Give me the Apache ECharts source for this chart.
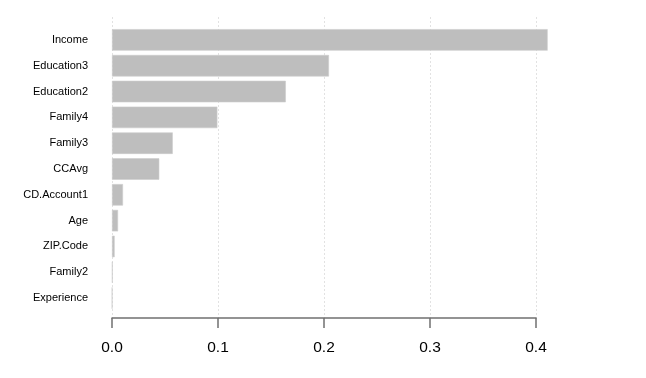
<!DOCTYPE html>
<html>
<head>
<meta charset="utf-8">
<script src="https://cdn.jsdelivr.net/npm/echarts@6/dist/echarts.min.js"></script>
<style>html,body{margin:0;padding:0;background:#fff}#c{width:646px;height:378px}</style>
</head>
<body>
<div id="c"></div>
<script>
const categories = ["Income","Education3","Education2","Family4","Family3","CCAvg","CD.Account1","Age","ZIP.Code","Family2","Experience"];
const values = [0.411,0.2047,0.164,0.0994,0.0573,0.0446,0.0104,0.0057,0.0025,0.0006,0.0002];
const tickValues = [0,0.1,0.2,0.3,0.4];

const chart = echarts.init(document.getElementById('c'), null, {renderer:'canvas'});
chart.setOption({
  animation:false,
  backgroundColor:'#ffffff',
  grid:[
    {left:112,right:110,top:27,bottom:67},
    {left:112,right:110,top:17,bottom:60}
  ],
  xAxis:[
    {gridIndex:0,type:'value',min:tickValues[0],max:tickValues[tickValues.length-1],show:false},
    {gridIndex:1,type:'value',min:tickValues[0],max:tickValues[tickValues.length-1],interval:0.1,
     axisLine:{show:true,lineStyle:{color:'#707070',width:1.5}},
     axisTick:{show:true,length:10,lineStyle:{color:'#707070',width:1.5}},
     axisLabel:{margin:22,color:'#000',fontSize:15.5,fontFamily:'Liberation Sans, Arial, sans-serif',
       formatter:v=>v.toFixed(1)},
     splitLine:{show:true,lineStyle:{color:'#e2e2e2',type:[2,2],width:1}}
    }
  ],
  yAxis:[
    {gridIndex:0,type:'category',data:categories,inverse:true,
     axisLine:{show:false},axisTick:{show:false},splitLine:{show:false},
     axisLabel:{margin:24,color:'#000',fontSize:11,fontFamily:'Liberation Sans, Arial, sans-serif'}},
    {gridIndex:1,type:'value',min:0,max:1,show:false}
  ],
  series:[{
    type:'bar',xAxisIndex:0,yAxisIndex:0,data:values,clip:false,
    barCategoryGap:'16.7%',
    itemStyle:{color:'#bebebe',borderColor:'#cccccc',borderWidth:0.6},
    z:3
  }]
});
</script>
</body>
</html>
